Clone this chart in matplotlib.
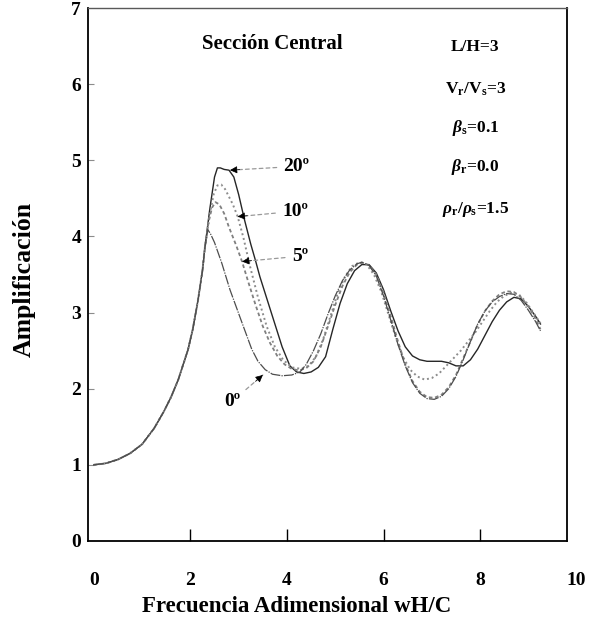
import matplotlib

matplotlib.use("Agg")
import matplotlib.pyplot as plt

# frequency / amplification.
# all four curves share the same rising branch up to x ~ 2.25
RISE_X = [0, 0.25, 0.5, 0.75, 1.0, 1.25, 1.45, 1.6, 1.75, 1.95, 2.05, 2.16, 2.25]
RISE_Y = [1.0, 1.02, 1.07, 1.15, 1.27, 1.48, 1.7, 1.89, 2.12, 2.51, 2.78, 3.17, 3.55]

X_0 = [2.3, 2.36, 2.42, 2.5, 2.65, 2.82, 3.05, 3.27, 3.4, 3.55,
       3.7, 3.9, 4.1, 4.27, 4.4, 4.55, 4.7, 4.85, 5.0, 5.15,
       5.3, 5.45, 5.55, 5.7, 5.85, 6.0, 6.15, 6.3, 6.45, 6.6,
       6.75, 6.9, 7.05, 7.2, 7.35, 7.5, 7.65, 7.8, 7.95, 8.1,
       8.25, 8.4, 8.55, 8.7, 8.85, 9.0, 9.15, 9.25]
Y_0 = [3.85, 4.09, 4.03, 3.92, 3.65, 3.3, 2.9, 2.52, 2.36, 2.25,
       2.19, 2.17, 2.18, 2.22, 2.32, 2.5, 2.72, 2.98, 3.22, 3.42,
       3.56, 3.64, 3.66, 3.62, 3.48, 3.22, 2.9, 2.58, 2.3, 2.08,
       1.94, 1.87, 1.86, 1.9, 2.0, 2.16, 2.38, 2.62, 2.85, 3.02,
       3.14, 3.21, 3.25, 3.24, 3.16, 3.03, 2.88, 2.76]

X_5 = [2.3, 2.38, 2.45, 2.52, 2.6, 2.7, 2.8, 2.95, 3.07, 3.2,
       3.35, 3.5, 3.65, 3.8, 3.95, 4.1, 4.25, 4.4, 4.55, 4.7,
       4.85, 5.0, 5.15, 5.3, 5.45, 5.55, 5.7, 5.85, 6.0, 6.15,
       6.3, 6.45, 6.6, 6.75, 6.9, 7.05, 7.2, 7.35, 7.5, 7.65,
       7.8, 7.95, 8.1, 8.25, 8.4, 8.55, 8.7, 8.85, 9.0, 9.15, 9.25]
Y_5 = [3.85, 4.2, 4.38, 4.45, 4.42, 4.3, 4.12, 3.88, 3.67, 3.4,
       3.1, 2.82, 2.6, 2.43, 2.32, 2.26, 2.24, 2.27, 2.36, 2.55,
       2.82, 3.1, 3.35, 3.53, 3.63, 3.66, 3.62, 3.5, 3.26, 2.95,
       2.62, 2.32, 2.1, 1.96, 1.89, 1.88, 1.92, 2.02, 2.18, 2.4,
       2.62, 2.84, 3.02, 3.15, 3.24, 3.28, 3.27, 3.2, 3.08, 2.92, 2.78]

X_10 = [2.3, 2.4, 2.48, 2.56, 2.64, 2.72, 2.8, 2.88, 2.98, 3.1,
        3.23, 3.4, 3.58, 3.75, 3.92, 4.1, 4.3, 4.45, 4.6, 4.75,
        4.9, 5.05, 5.2, 5.35, 5.5, 5.65, 5.8, 5.95, 6.1, 6.25,
        6.4, 6.55, 6.7, 6.85, 7.0, 7.15, 7.3, 7.45, 7.6, 7.75,
        7.9, 8.05, 8.2, 8.35, 8.5, 8.65, 8.8, 8.95, 9.1, 9.25]
Y_10 = [3.85, 4.28, 4.55, 4.67, 4.68, 4.62, 4.52, 4.42, 4.26, 3.98,
        3.62, 3.2, 2.82, 2.55, 2.38, 2.28, 2.26, 2.3, 2.42, 2.65,
        2.95, 3.25, 3.47, 3.61, 3.66, 3.63, 3.5, 3.28, 2.98, 2.68,
        2.42, 2.25, 2.16, 2.12, 2.14, 2.2, 2.3, 2.4, 2.5, 2.62,
        2.74, 2.88, 3.02, 3.14, 3.22, 3.26, 3.24, 3.14, 3.0, 2.86]

X_20 = [2.3, 2.4, 2.5, 2.56, 2.62, 2.7, 2.8, 2.9, 3.0, 3.12,
        3.25, 3.35, 3.44, 3.6, 3.75, 3.9, 4.06, 4.2, 4.35, 4.5,
        4.65, 4.8, 4.95, 5.1, 5.25, 5.4, 5.55, 5.7, 5.85, 6.0,
        6.15, 6.3, 6.45, 6.6, 6.75, 6.9, 7.05, 7.2, 7.35, 7.5,
        7.65, 7.8, 7.95, 8.1, 8.25, 8.4, 8.55, 8.7, 8.85, 9.0,
        9.15, 9.25]
Y_20 = [3.85, 4.35, 4.78, 4.9, 4.9, 4.88, 4.87, 4.78, 4.55, 4.22,
        3.9, 3.68, 3.47, 3.15, 2.85, 2.55, 2.3, 2.22, 2.2, 2.22,
        2.28, 2.42, 2.78, 3.12, 3.38, 3.55, 3.63, 3.63, 3.52, 3.3,
        3.02, 2.76, 2.55, 2.43, 2.38, 2.36, 2.36, 2.36, 2.34, 2.3,
        2.3, 2.38, 2.52, 2.7, 2.88, 3.03, 3.14, 3.2, 3.18, 3.08,
        2.95, 2.85]

X_TICKS = [0, 2, 4, 6, 8]
Y_TICKS = [0, 1, 2, 3, 4, 5, 6, 7]

# label text, arrow tip (on the curve), label position
ANGLE_LABELS = ["20º", "10º", "5º", "0º"]
ARROW_TIPS = [(2.82, 4.87), (2.98, 4.26), (3.07, 3.67), (3.5, 2.18)]
LABEL_POS = [(4.2, 4.92), (4.17, 4.33), (4.27, 3.74), (2.86, 1.83)]

PARAMS = [
    "L/H=3",
    r"V$_\mathrm{r}$/V$_\mathrm{s}$=3",
    r"$\beta_\mathrm{s}$=0.1",
    r"$\beta_\mathrm{r}$=0.0",
    r"$\rho_\mathrm{r}/\rho_\mathrm{s}$=1.5",
]
PARAM_Y = [6.49, 5.93, 5.43, 4.91, 4.36]


def plot_data():
    plt.rcParams["font.family"] = "Liberation Serif"
    plt.rcParams["font.weight"] = "bold"
    plt.rcParams["mathtext.fontset"] = "custom"
    plt.rcParams["mathtext.rm"] = "Liberation Serif:bold"
    plt.rcParams["mathtext.it"] = "Liberation Serif:bold:italic"
    plt.rcParams["mathtext.bf"] = "Liberation Serif:bold"

    fig = plt.figure(figsize=(5.93, 6.30), dpi=100)
    fig.patch.set_facecolor("white")
    ax = fig.add_axes([0.1484, 0.1413, 0.8078, 0.846])

    ax.plot(RISE_X + X_20, RISE_Y + Y_20, color="0.15", lw=1.0)
    ax.plot(RISE_X + X_10, RISE_Y + Y_10, color="0.55", lw=1.4,
            linestyle=(0, (1, 1.5)))
    ax.plot(RISE_X + X_5, RISE_Y + Y_5, color="0.5", lw=1.3,
            linestyle=(0, (2, 1.5)))
    ax.plot(RISE_X + X_0, RISE_Y + Y_0, color="0.3", lw=0.9,
            linestyle=(0, (8, 1, 1, 1)))

    ax.set_xlim(-0.12, 9.8)
    ax.set_ylim(0, 7)
    ax.set_xticks(X_TICKS)
    ax.set_yticks(Y_TICKS)
    ax.tick_params(axis="x", direction="in", length=9, width=1.0, pad=22,
                   labelsize=14)
    ax.tick_params(axis="y", direction="in", length=4, width=0.8,
                   color="0.55", pad=5, labelsize=14)
    ax.xaxis.get_major_ticks()[0].tick1line.set_visible(False)
    ax.yaxis.get_major_ticks()[0].tick1line.set_visible(False)
    ax.yaxis.get_major_ticks()[-1].tick1line.set_visible(False)
    # "10" sits just outside the right edge of the frame in the original
    ax.annotate("10", xy=(10, 0), xycoords="data", xytext=(0, -22),
                textcoords="offset points", ha="center", va="top",
                fontsize=14, fontweight="bold", annotation_clip=False)

    for side in ["left", "right", "bottom"]:
        ax.spines[side].set_linewidth(1.3)
    ax.spines["top"].set_linewidth(1.0)
    ax.spines["top"].set_color("0.35")

    ax.set_ylabel("Amplificación", fontsize=18.5, fontweight="bold")
    ax.yaxis.set_label_coords(-0.109, 0.49)
    ax.set_xlabel("Frecuencia Adimensional wH/C", fontsize=16.5,
                  fontweight="bold")
    ax.xaxis.set_label_coords(0.436, -0.103)

    ax.text(3.69, 6.53, "Sección Central", ha="center", va="center",
            fontsize=15, fontweight="bold")
    for txt, yy in zip(PARAMS, PARAM_Y):
        ax.text(7.9, yy, txt, ha="center", va="center", fontsize=12.5,
                fontweight="bold")

    for txt, tip, pos in zip(ANGLE_LABELS, ARROW_TIPS, LABEL_POS):
        ax.annotate(
            txt,
            xy=tip,
            xytext=pos,
            ha="center",
            va="center",
            fontsize=14,
            fontweight="bold",
            arrowprops=dict(arrowstyle="-", color="0.6", lw=0.9,
                            linestyle=(0, (3, 2.5)), shrinkA=3, shrinkB=0),
        )
        # small black head at the curve end of each arrow
        dx = pos[0] - tip[0]
        dy = pos[1] - tip[1]
        norm = (dx ** 2 + (dy * 1.6) ** 2) ** 0.5
        ax.annotate(
            "",
            xy=tip,
            xytext=(7 * dx / norm, 7 * dy * 1.6 / norm),
            textcoords="offset points",
            arrowprops=dict(arrowstyle="-|>", color="black", lw=0.5,
                            mutation_scale=11, shrinkA=0, shrinkB=0),
        )

    fig.savefig("out.png", dpi=100)


if __name__ == "__main__":
    plot_data()
